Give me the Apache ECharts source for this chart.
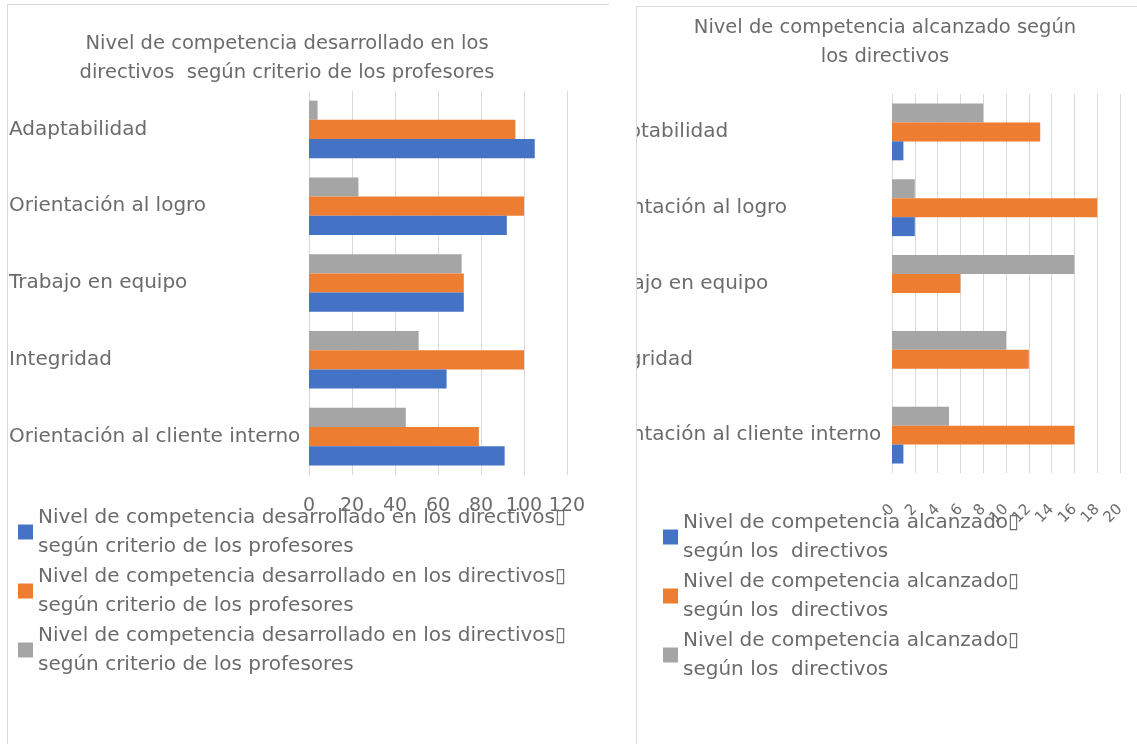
<!DOCTYPE html>
<html>
<head>
<meta charset="utf-8">
<script src="https://cdn.jsdelivr.net/npm/echarts@6/dist/echarts.min.js"></script>
<style>
  html, body { margin: 0; padding: 0; background: #fff; }
  body { width: 1137px; height: 744px; overflow: hidden; position: relative; }
  .panel { position: absolute; border-left: 1px solid #d9d9d9; border-top: 1px solid #d9d9d9; }
  #leftPanel { left: 7px; top: 4px; width: 601px; height: 760px; }
  #rightPanel { left: 636px; top: 6px; width: 501px; height: 738px; overflow: hidden; }
  #leftChart { position: absolute; left: 0; top: 0; width: 620px; height: 744px; }
  #rightChart { position: absolute; left: -637px; top: -7px; width: 1137px; height: 744px; }
</style>
</head>
<body>
<div class="panel" id="leftPanel"></div>
<div id="leftChart"></div>
<div class="panel" id="rightPanel"><div id="rightChart"></div></div>
<script>
// categories listed bottom to top, as in the Excel bar chart
const categories = ["Orientación al cliente interno", "Integridad", "Trabajo en equipo", "Orientación al logro", "Adaptabilidad"]

// left chart: desarrollado segun criterio de los profesores
const profTitle = "Nivel de competencia desarrollado en los\ndirectivos  según criterio de los profesores"
const profSeriesName = "Nivel de competencia desarrollado en los directivos\u25AF\nsegún criterio de los profesores"
const profBlue = [91, 64, 72, 92, 105]
const profOrange = [79, 100, 72, 100, 96]
const profGray = [45, 51, 71, 23, 4]
const profTicks = { min: 0, max: 120, interval: 20 }

// right chart: alcanzado segun los directivos
const dirTitle = "Nivel de competencia alcanzado según\nlos directivos"
const dirSeriesName = "Nivel de competencia alcanzado\u25AF\nsegún los  directivos"
const dirBlue = [1, 0, 0, 2, 1]
const dirOrange = [16, 12, 6, 18, 13]
const dirGray = [5, 10, 16, 2, 8]
const dirTicks = { min: 0, max: 20, interval: 2 }

const colors = ["#4472C4", "#ED7D31", "#A5A5A5"]
const textColor = "#6b6b6b"
const fontFamily = "DejaVu Sans"

function makeOption(cfg) {
  // legend merges equal names, so pad with zero width spaces
  const names = [cfg.name, cfg.name + "\u200b", cfg.name + "\u200b\u200b"]
  const data = [cfg.blue, cfg.orange, cfg.gray]
  // gray first so that blue ends up at the bottom of each group
  const order = [2, 1, 0]
  return {
    animation: false,
    textStyle: { fontFamily: fontFamily },
    graphic: [
      {
        type: "text",
        x: cfg.titleX,
        y: cfg.titleY,
        style: {
          text: cfg.title,
          fill: textColor,
          fontFamily: fontFamily,
          fontSize: 19.5,
          lineHeight: 29,
          align: "center",
          verticalAlign: "top"
        }
      }
    ],
    legend: {
      orient: "vertical",
      left: cfg.legendLeft,
      top: cfg.legendTop,
      padding: 0,
      icon: "rect",
      itemWidth: 15,
      itemHeight: 15,
      itemGap: 1,
      selectedMode: false,
      textStyle: { color: textColor, fontSize: 20, lineHeight: 29, fontFamily: fontFamily },
      data: names
    },
    grid: {
      left: cfg.gridLeft,
      top: cfg.gridTop,
      width: cfg.gridWidth,
      height: cfg.gridHeight,
      containLabel: false
    },
    xAxis: {
      type: "value",
      min: cfg.ticks.min,
      max: cfg.ticks.max,
      interval: cfg.ticks.interval,
      axisLine: { show: false },
      axisTick: { show: false },
      axisLabel: {
        color: textColor,
        fontSize: cfg.xFont,
        rotate: cfg.xRotate,
        margin: cfg.xMargin,
        hideOverlap: false
      },
      splitLine: { lineStyle: { color: "#d9d9d9", width: 1 } }
    },
    yAxis: {
      type: "category",
      data: categories,
      axisLine: { show: false },
      axisTick: { show: false },
      axisLabel: {
        color: textColor,
        fontSize: 20,
        align: "left",
        margin: cfg.yMargin,
        padding: [5, 0, 0, 0],
        interval: 0
      }
    },
    series: order.map(function (i) {
      return {
        name: names[i],
        type: "bar",
        barGap: "0%",
        barCategoryGap: "25%",
        itemStyle: { color: colors[i] },
        data: data[i]
      }
    })
  }
}

const leftChart = echarts.init(document.getElementById("leftChart"))
leftChart.setOption(makeOption({
  title: profTitle, titleX: 287, titleY: 29,
  name: profSeriesName,
  legendLeft: 18, legendTop: 503,
  gridLeft: 309, gridTop: 91, gridWidth: 258, gridHeight: 384,
  ticks: profTicks, xFont: 19, xRotate: 0, xMargin: 22,
  yMargin: 300,
  blue: profBlue, orange: profOrange, gray: profGray
}))

const rightChart = echarts.init(document.getElementById("rightChart"))
rightChart.setOption(makeOption({
  title: dirTitle, titleX: 885, titleY: 13,
  name: dirSeriesName,
  legendLeft: 663, legendTop: 508,
  gridLeft: 892, gridTop: 94, gridWidth: 228, gridHeight: 379,
  ticks: dirTicks, xFont: 15, xRotate: 45, xMargin: 34,
  yMargin: 302,
  blue: dirBlue, orange: dirOrange, gray: dirGray
}))
</script>
</body>
</html>
